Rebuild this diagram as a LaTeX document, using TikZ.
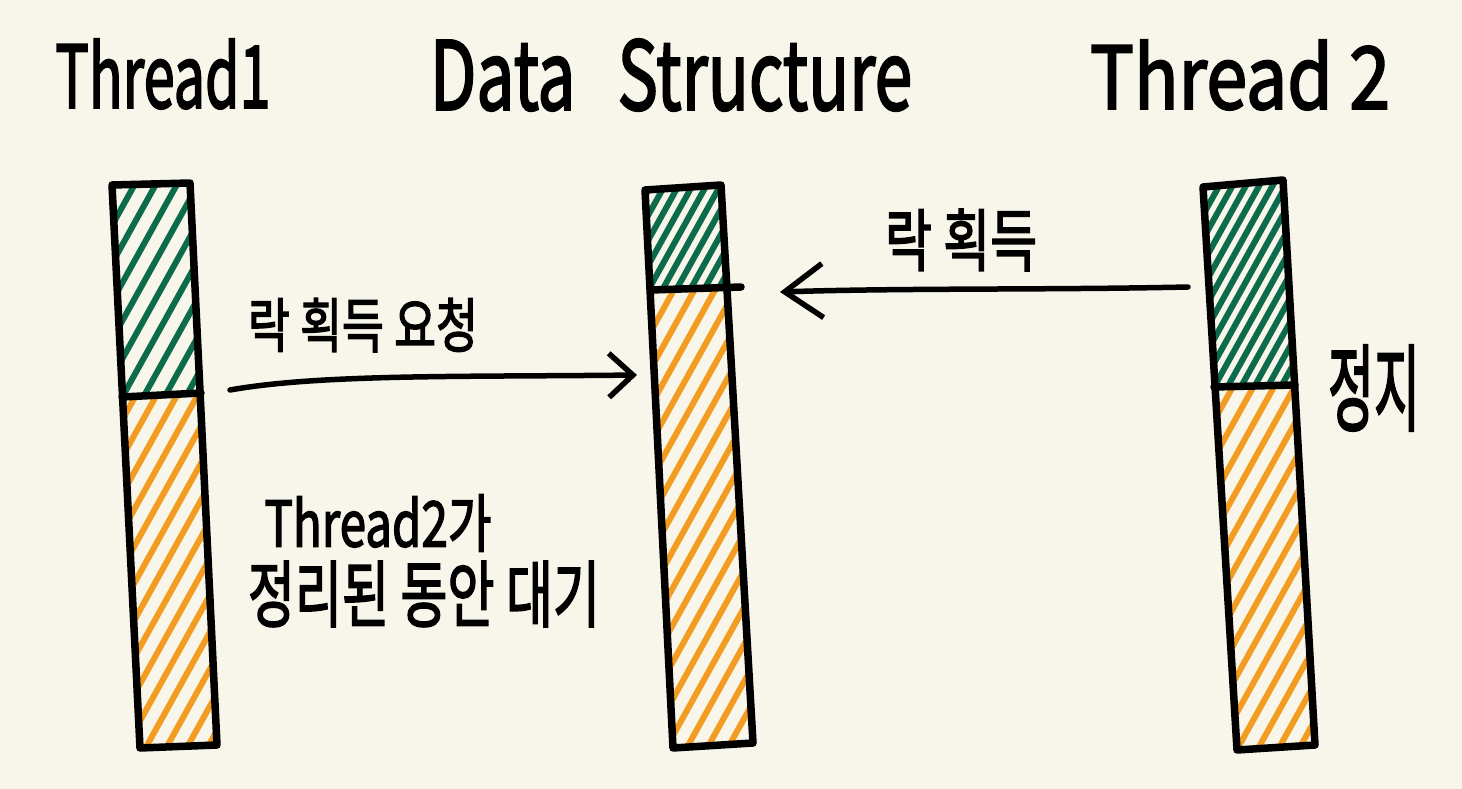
\documentclass[tikz,border=0pt]{standalone}
\usepackage{fontspec}
\usepackage{graphicx}
\setmainfont{Noto Sans CJK KR}[BoldFont=Noto Sans CJK KR,BoldFeatures={FakeBold=2.5}]
\usetikzlibrary{arrows.meta}
\definecolor{bg}{HTML}{F8F6EA}
\definecolor{hgreen}{HTML}{0B6B4A}
\definecolor{horange}{HTML}{F39C22}
\newcommand\hatchreg[6]{% color, xL, y1, y2, yEnd, clip path
  \begin{scope}
    \clip #6;
    \foreach \yy in {#3,#4,...,#5}
      \draw[hatch,#1] (#2,\yy) -- ++(200,-360);
  \end{scope}}
\newcommand\fitbox[3]{\resizebox*{#1}{#2}{\bfseries #3}}
\begin{document}
\begin{tikzpicture}[x=1pt,y=-1pt,
  bar/.style={line width=7.5pt,line join=round,line cap=round,black},
  hatch/.style={line width=6pt,line cap=round},
  conn/.style={line width=5.5pt,line cap=round,black},
  txt/.style={inner sep=0pt,outer sep=0pt,text=black}]
\fill[bg] (0,0) rectangle (1462,789);
\useasboundingbox (0,0) rectangle (1462,789);

% ---------- bar 1 (Thread1)
\coordinate (a1) at (112,185); \coordinate (b1) at (190,183);
\coordinate (c1) at (217,745); \coordinate (d1) at (140,748);
\coordinate (l1) at (122,397); \coordinate (r1) at (201,393);
\coordinate (m1) at (200,393);
\hatchreg{hgreen}{105}{200}{238}{580}{(a1)--(b1)--(m1)--(l1)--cycle}
\hatchreg{horange}{110}{405}{442}{940}{(l1)--(m1)--(c1)--(d1)--cycle}
\draw[bar] (a1)--(b1)--(c1)--(d1)--cycle;
\draw[bar] (l1)--(r1);

% ---------- bar 2 (Data Structure)
\coordinate (a2) at (645,190); \coordinate (b2) at (721,185);
\coordinate (c2) at (753,743); \coordinate (d2) at (673,748);
\coordinate (l2) at (651,290); \coordinate (r2) at (741,287);
\coordinate (m2) at (727,287);
\hatchreg{hgreen}{640}{205}{230}{470}{(a2)--(b2)--(m2)--(l2)--cycle}
\hatchreg{horange}{645}{305}{342}{945}{(l2)--(m2)--(c2)--(d2)--cycle}
\draw[bar] (a2)--(b2)--(c2)--(d2)--cycle;
\draw[bar] (l2)--(r2);

% ---------- bar 3 (Thread 2)
\coordinate (a3) at (1203,187); \coordinate (b3) at (1283,180);
\coordinate (c3) at (1315,745); \coordinate (d3) at (1237,750);
\coordinate (l3) at (1214,387); \coordinate (r3) at (1295,385);
\hatchreg{hgreen}{1198}{200}{224}{570}{(a3)--(b3)--(r3)--(l3)--cycle}
\hatchreg{horange}{1205}{400}{437}{945}{(l3)--(r3)--(c3)--(d3)--cycle}
\draw[bar] (a3)--(b3)--(c3)--(d3)--cycle;
\draw[bar] (l3)--(r3);

% ---------- titles
\node[txt] (t1) at (163,74) {\fitbox{215pt}{70pt}{Thread1}};
\node[txt] (ds) at (671,75) {\fitbox{482pt}{72pt}{Data\hspace{0.4em} Structure}};
\node[txt] (t2) at (1240,75) {\fitbox{300pt}{70pt}{Thread 2}};

% ---------- labels
\node[txt] (req) at (363,325) {\fitbox{230pt}{54pt}{락 획득 요청}};
\node[txt] (acq) at (961,240) {\fitbox{152pt}{62pt}{락 획득}};
\node[txt] (w1) at (378,523) {\fitbox{227pt}{57pt}{Thread2가}};
\node[txt] (w2) at (424,594) {\fitbox{352pt}{66pt}{정리된 동안 대기}};
\node[txt] (stop) at (1374,388) {\fitbox{92pt}{86pt}{정지}};

% ---------- connectors
\coordinate (s1) at (230,390); \coordinate (e1) at (637,375);
\draw[conn,-{Straight Barb[length=24pt,width=44pt,line width=5.5pt]}]
  (s1) .. controls (320,374) and (460,377) .. (e1);
\coordinate (s2) at (1188,287); \coordinate (e2) at (780,292);
\draw[conn,-{Straight Barb[length=38pt,width=54pt,line width=5.5pt]}]
  (s2) .. controls (1050,290) and (900,288) .. (e2);
\end{tikzpicture}
\end{document}
